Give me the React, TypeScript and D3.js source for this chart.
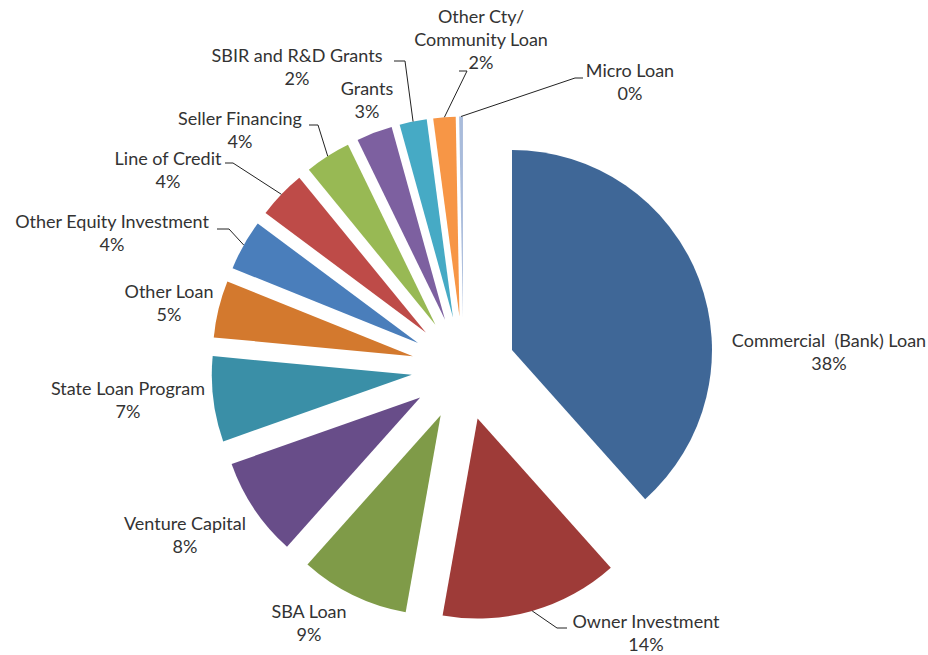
import React from "react";
import * as d3 from "d3";

const categories = [
  "Commercial (Bank) Loan",
  "Owner Investment",
  "SBA Loan",
  "Venture Capital",
  "State Loan Program",
  "Other Loan",
  "Other Equity Investment",
  "Line of Credit",
  "Seller Financing",
  "Grants",
  "SBIR and R&D Grants",
  "Other Cty/ Community Loan",
  "Micro Loan",
];

const values = [38.4, 14.4, 8.8, 8.0, 6.9, 4.6, 4.1, 3.9, 3.7, 2.9, 2.2, 1.8, 0.3];

// label text lines (category wrapped as in the reference)
const labelLines = [
  ["Commercial  (Bank) Loan"],
  ["Owner Investment"],
  ["SBA Loan"],
  ["Venture Capital"],
  ["State Loan Program"],
  ["Other Loan"],
  ["Other Equity Investment"],
  ["Line of Credit"],
  ["Seller Financing"],
  ["Grants"],
  ["SBIR and R&D Grants"],
  ["Other Cty/", "Community Loan"],
  ["Micro Loan"],
];

const colors = [
  "#3F6797",
  "#9E3B38",
  "#7F9B48",
  "#684D89",
  "#3A8FA7",
  "#D3792E",
  "#4A7EBB",
  "#BE4B48",
  "#98B954",
  "#7D60A0",
  "#46AAC5",
  "#F79646",
  "#A9BCDB",
];

// layout: label centre x, first baseline y, leader elbow (x,y) and horizontal end x
const labelLayout: { x: number; y: number; elbow?: [number, number, number] }[] = [
  { x: 829, y: 347 },
  { x: 646, y: 628, elbow: [557, 628, 567] },
  { x: 309, y: 618 },
  { x: 185, y: 530 },
  { x: 128, y: 395 },
  { x: 169, y: 298 },
  { x: 112, y: 228, elbow: [229, 229, 217] },
  { x: 168, y: 165, elbow: [233, 163, 225] },
  { x: 240, y: 125, elbow: [318, 125, 309] },
  { x: 367, y: 95 },
  { x: 297, y: 62, elbow: [405, 61, 394] },
  { x: 481, y: 23, elbow: [467, 71, 459] },
  { x: 630, y: 77, elbow: [575, 78, 583] },
];

const W = 928;
const H = 655;
const CX = 463.4;
const CY = 368.5;
const R = 200;
const EXPLODE = 52;
const FONT = "Lato, 'Noto Sans', sans-serif";
const FS = 18;
const LH = 23;

export default function App() {
  const total = d3.sum(values);
  const pie = d3
    .pie<number>()
    .sort(null)
    .value((d) => d)
    .startAngle(0)
    .endAngle(2 * Math.PI);
  const arcs = pie(values);
  const arc = d3.arc<d3.PieArcDatum<number>>().innerRadius(0).outerRadius(R);

  return (
    <svg
      width={W}
      height={H}
      style={{ position: "absolute", left: 0, top: 0, background: "#fff" }}
    >
      {arcs.map((a, i) => {
        const mid = (a.startAngle + a.endAngle) / 2;
        const dx = Math.sin(mid) * EXPLODE;
        const dy = -Math.cos(mid) * EXPLODE;
        return (
          <path
            key={"s" + i}
            d={arc(a) || ""}
            transform={`translate(${CX + dx},${CY + dy})`}
            fill={colors[i]}
          />
        );
      })}
      {arcs.map((a, i) => {
        const L = labelLayout[i];
        if (!L.elbow) return null;
        const mid = (a.startAngle + a.endAngle) / 2;
        const rr = EXPLODE + R;
        const sx = CX + Math.sin(mid) * rr;
        const sy = CY - Math.cos(mid) * rr;
        const [ex, ey, hx] = L.elbow;
        return (
          <polyline
            key={"l" + i}
            points={`${sx},${sy} ${ex},${ey} ${hx},${ey}`}
            fill="none"
            stroke="#222"
            strokeWidth={1}
          />
        );
      })}
      {arcs.map((a, i) => {
        const L = labelLayout[i];
        const lines = [...labelLines[i], `${Math.round((values[i] / total) * 100)}%`];
        return (
          <text
            key={"t" + i}
            x={L.x}
            y={L.y}
            textAnchor="middle"
            fontFamily={FONT}
            fontSize={FS}
            fill="#333"
          >
            {lines.map((ln, j) => (
              <tspan key={j} x={L.x} y={L.y + j * LH} style={{ whiteSpace: "pre" }}>
                {ln}
              </tspan>
            ))}
          </text>
        );
      })}
    </svg>
  );
}
